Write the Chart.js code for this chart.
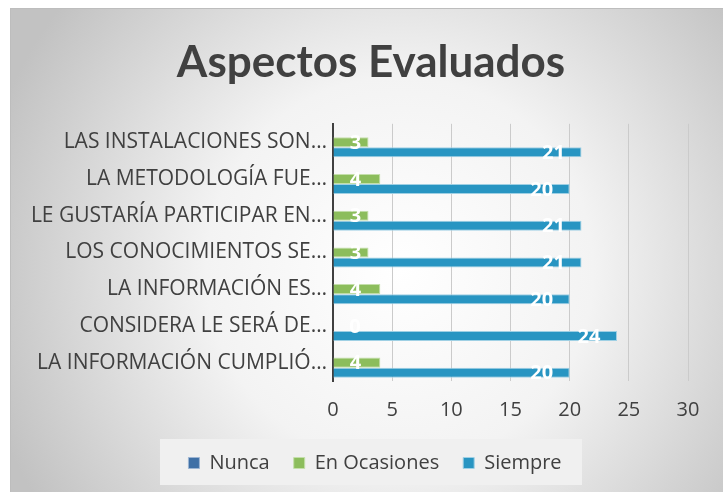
<!DOCTYPE html>
<html>
<head>
<meta charset="utf-8">
<script src="https://cdn.jsdelivr.net/npm/chart.js@4/dist/chart.umd.min.js"></script>
<style>
  html, body { margin: 0; padding: 0; background: #ffffff; }
  #wrap { width: 723px; height: 492px; }
</style>
</head>
<body>
<div id="wrap"><canvas id="aspectsChart" width="723" height="492"></canvas></div>
<script>
const categories = [
  "LAS INSTALACIONES SON…",
  "LA METODOLOGÍA FUE…",
  "LE GUSTARÍA PARTICIPAR EN…",
  "LOS CONOCIMIENTOS SE…",
  "LA INFORMACIÓN ES…",
  "CONSIDERA LE SERÁ DE…",
  "LA INFORMACIÓN CUMPLIÓ…"
]
const nunca = [0, 0, 0, 0, 0, 0, 0]
const enOcasiones = [3, 4, 3, 3, 4, 0, 4]
const siempre = [21, 20, 21, 21, 20, 24, 20]
const xTicks = [0, 5, 10, 15, 20, 25, 30]

const textColor = "#404040"
const labelFont = "'Open Sans', 'DejaVu Sans', sans-serif"

// gradient panel behind everything, like the office chart area
const panelBackground = {
  id: "panelBackground",
  beforeDraw(chart) {
    const ctx = chart.ctx
    ctx.save()
    ctx.fillStyle = "#ffffff"
    ctx.fillRect(0, 0, chart.width, chart.height)
    const g = ctx.createRadialGradient(400, 270, 0, 400, 270, 430)
    g.addColorStop(0, "#ffffff")
    g.addColorStop(0.45, "#f3f3f3")
    g.addColorStop(1, "#c2c2c2")
    ctx.fillStyle = g
    ctx.fillRect(10, 8, chart.width - 10, chart.height - 8)
    ctx.strokeStyle = "#bdbdbd"
    ctx.lineWidth = 1
    ctx.strokeRect(10.5, 8.5, chart.width, chart.height)

    // lighter box behind the legend
    ctx.fillStyle = "#f0f0f0"
    ctx.fillRect(160, 439, 422, 46)
    ctx.restore()
  }
}

// title and legend sit a bit right of the full-width centre
const shiftBlocks = {
  id: "shiftBlocks",
  afterLayout(chart) {
    const move = (box, dx) => {
      if (box) {
        box.left += dx
        box.right += dx
      }
    }
    move(chart.titleBlock, 22)
    move(chart.legend, 26)
  }
}

// white value labels near the bar ends
const barValues = {
  id: "barValues",
  afterDatasetsDraw(chart) {
    const ctx = chart.ctx
    ctx.save()
    ctx.font = `bold 20px ${labelFont}`
    ctx.fillStyle = "#ffffff"
    ctx.textAlign = "center"
    ctx.textBaseline = "middle"
    chart.data.datasets.forEach((ds, di) => {
      if (di === 0) {
        return
      }
      chart.getDatasetMeta(di).data.forEach((bar, i) => {
        const x = Math.max(bar.x - 28, bar.base + 22)
        ctx.fillText(String(ds.data[i]), x, bar.y + 1)
      })
    })
    ctx.restore()
  }
}

new Chart(document.getElementById("aspectsChart"), {
  type: "bar",
  data: {
    labels: categories,
    datasets: [
      {
        label: "Nunca",
        data: nunca,
        backgroundColor: "#3f70a6",
        borderColor: "#9db5d3",
        borderWidth: 1
      },
      {
        label: "En Ocasiones",
        data: enOcasiones,
        backgroundColor: "#8cbd5c",
        borderColor: "#c4dfaa",
        borderWidth: 1
      },
      {
        label: "Siempre",
        data: siempre,
        backgroundColor: "#2895c2",
        borderColor: "#9fd0e4",
        borderWidth: 1
      }
    ]
  },
  options: {
    indexAxis: "y",
    responsive: false,
    animation: false,
    layout: {
      padding: { left: 10, right: 35, top: 8, bottom: 9 }
    },
    datasets: {
      bar: {
        categoryPercentage: 0.82,
        barPercentage: 1
      }
    },
    scales: {
      x: {
        min: 0,
        max: 30,
        afterBuildTicks: scale => {
          scale.ticks = xTicks.map(v => ({ value: v }))
        },
        afterFit: scale => {
          scale.height = 48
        },
        grid: {
          color: "#cbcbcb",
          drawTicks: false
        },
        border: { display: false },
        ticks: {
          color: textColor,
          padding: 17,
          font: { family: labelFont, size: 20 }
        }
      },
      y: {
        afterFit: scale => {
          scale.width = 323
        },
        grid: { display: false, drawTicks: false },
        border: { color: "#404040", width: 2 },
        ticks: {
          color: textColor,
          padding: 6,
          font: { family: labelFont, size: 21 }
        }
      }
    },
    plugins: {
      title: {
        display: true,
        text: "Aspectos Evaluados",
        color: textColor,
        font: { family: "Lato, 'Open Sans', sans-serif", size: 44, weight: "bold" },
        padding: { top: 28, bottom: 35 }
      },
      legend: {
        position: "bottom",
        labels: {
          color: textColor,
          boxWidth: 11,
          boxHeight: 11,
          padding: 24,
          font: { family: labelFont, size: 20 }
        }
      },
      tooltip: { enabled: false }
    }
  },
  plugins: [panelBackground, shiftBlocks, barValues]
})
</script>
</body>
</html>
